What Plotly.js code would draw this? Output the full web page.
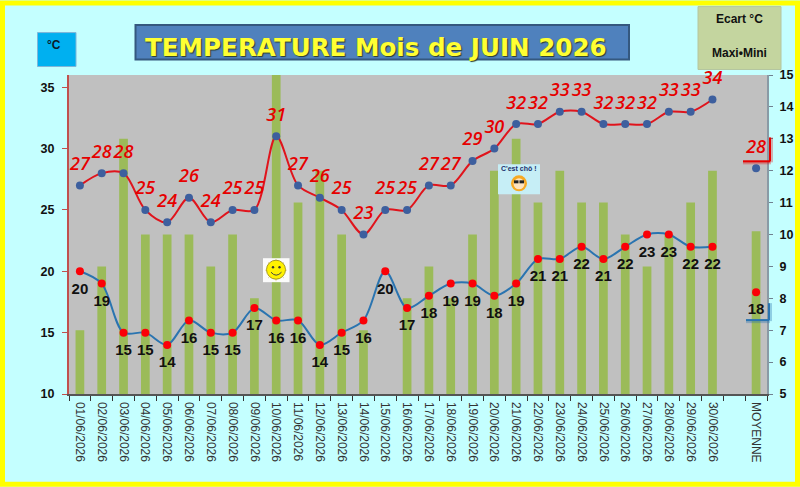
<!DOCTYPE html>
<html>
<head>
<meta charset="utf-8">
<script src="https://cdn.plot.ly/plotly-3.0.1.min.js"></script>
<style>
    html, body { margin: 0; padding: 0; background: #c4ffff; }
</style>
</head>
<body>
<div id="chart" style="width:800px;height:487px;"></div>
<script>
var days = ['01/06/2026', '02/06/2026', '03/06/2026', '04/06/2026', '05/06/2026', '06/06/2026', '07/06/2026', '08/06/2026', '09/06/2026', '10/06/2026',
    '11/06/2026', '12/06/2026', '13/06/2026', '14/06/2026', '15/06/2026', '16/06/2026', '17/06/2026', '18/06/2026', '19/06/2026', '20/06/2026',
    '21/06/2026', '22/06/2026', '23/06/2026', '24/06/2026', '25/06/2026', '26/06/2026', '27/06/2026', '28/06/2026', '29/06/2026', '30/06/2026', ' ', 'MOYENNE'];
var maxi = [27, 28, 28, 25, 24, 26, 24, 25, 25, 31, 27, 26, 25, 23, 25, 25, 27, 27, 29, 30, 32, 32, 33, 33, 32, 32, 32, 33, 33, 34, null, 28.4];
var mini = [20, 19, 15, 15, 14, 16, 15, 15, 17, 16, 16, 14, 15, 16, 20, 17, 18, 19, 19, 18, 19, 21, 21, 22, 21, 22, 23, 23, 22, 22, null, 18.3];
var ecart = [7, 9, 13, 10, 10, 10, 9, 10, 8, 15, 11, 12, 10, 7, 5, 8, 9, 8, 10, 12, 13, 11, 12, 11, 11, 10, 9, 10, 11, 12, null, 10.1];

var plotLeft = 69, plotRight = 767, plotTop = 74.5, plotBottom = 394;

// Pixel position on the page to paper fraction, for the decorations around the chart.
function px(x) { return (x - plotLeft) / (plotRight - plotLeft); }
function py(y) { return (plotBottom - y) / (plotBottom - plotTop); }

function pixelRect(x0, y0, x1, y1, fill, lineColor, lineWidth, layer) {
    return {
        type: 'rect', xref: 'paper', yref: 'paper', layer: layer || 'above',
        x0: px(x0), x1: px(x1), y0: py(y0), y1: py(y1),
        fillcolor: fill, line: { color: lineColor || fill, width: lineWidth || 0 }
    };
}
function pixelCircle(cx, cy, r, fill, lineColor) {
    return {
        type: 'circle', xref: 'paper', yref: 'paper', layer: 'above',
        x0: px(cx - r), x1: px(cx + r), y0: py(cy - r), y1: py(cy + r),
        fillcolor: fill, line: { color: lineColor || fill, width: lineColor ? 1 : 0 }
    };
}
function pixelLine(x0, y0, x1, y1, color, width) {
    return {
        type: 'line', xref: 'paper', yref: 'paper', layer: 'above',
        x0: px(x0), x1: px(x1), y0: py(y0), y1: py(y1),
        line: { color: color, width: width }
    };
}
function pixelText(x, y, text, font) {
    return {
        xref: 'paper', yref: 'paper', x: px(x), y: py(y), text: text,
        showarrow: false, xanchor: 'center', yanchor: 'middle', font: font
    };
}
function labels(values) {
    return values.map(function (v) { return v === null ? '' : String(Math.round(v)); });
}

var traces = [
    {
        type: 'bar', x: days, y: ecart, yaxis: 'y', name: 'Ecart',
        marker: { color: '#9bbb59' }, hoverinfo: 'x+y'
    },
    {
        type: 'scatter', x: days, y: maxi, yaxis: 'y2', name: 'Maxi',
        mode: 'lines+markers',
        line: { color: '#e0141c', width: 2, shape: 'spline', smoothing: 0.9 },
        marker: { color: '#3d5f9e', size: 8 }
    },
    {
        type: 'scatter', x: days, y: mini, yaxis: 'y2', name: 'Mini',
        mode: 'lines+markers',
        line: { color: '#2a74b0', width: 2, shape: 'spline', smoothing: 0.9 },
        marker: { color: '#fb0007', size: 8 }
    },
    // Labels sit on their own traces: the invisible marker size sets how far they stand off the points.
    {
        type: 'scatter', x: days, y: maxi, yaxis: 'y2', name: 'Maxi labels',
        mode: 'markers+text', text: labels(maxi), textposition: 'top center',
        textfont: { family: 'Open Sans, sans-serif', size: 18, color: '#e60000', style: 'italic', weight: 600 },
        marker: { size: 16, opacity: 0 },
        cliponaxis: false
    },
    {
        type: 'scatter', x: days, y: mini, yaxis: 'y2', name: 'Mini labels',
        mode: 'markers+text', text: labels(mini), textposition: 'bottom center',
        textfont: { family: 'Liberation Sans, Arial, sans-serif', size: 15, color: '#111111', weight: 700 },
        marker: { size: 16, opacity: 0 },
        cliponaxis: false
    }
];

var boldTick = { family: 'Liberation Sans, Arial, sans-serif', size: 12.5, color: '#111111', weight: 700 };

var shapes = [
    // frame and boxes
    pixelRect(2.5, 2.5, 797.5, 484.5, 'rgba(0,0,0,0)', '#ffff00', 5, 'below'),
    pixelRect(135.5, 24.5, 629, 59, '#4f81bd', '#34587f', 2, 'below'),
    pixelRect(37.5, 32, 76, 66, '#00b0f0', '#7fb6d8', 1, 'below'),
    pixelRect(698, 6, 781, 69, '#c4d59f', '#b4c6a0', 1, 'below'),
    // corner marks around the monthly means
    pixelLine(743, 162, 771, 162, 'rgba(230,0,0,0.3)', 4),
    pixelLine(771, 137, 771, 162, 'rgba(230,0,0,0.3)', 4),
    pixelLine(743, 161, 770, 161, '#e60000', 2),
    pixelLine(770, 137, 770, 161, '#e60000', 2),
    pixelLine(746, 321, 770, 321, 'rgba(42,116,176,0.35)', 4),
    pixelLine(770, 303, 770, 321, 'rgba(42,116,176,0.35)', 4),
    pixelLine(746, 320, 769, 320, '#2a74b0', 2),
    pixelLine(769, 303, 769, 320, '#2a74b0', 2),
    // smiley
    pixelRect(263, 258, 289.5, 282, '#fbfbfb'),
    pixelLine(276, 259, 276, 281, '#e6d9a0', 1),
    pixelLine(265, 270, 287, 270, '#e6d9a0', 1),
    pixelLine(268, 262, 284, 278, '#e6d9a0', 1),
    pixelLine(284, 262, 268, 278, '#e6d9a0', 1),
    pixelCircle(276, 269.5, 9.5, '#fff200', '#a89a20'),
    pixelCircle(273, 267, 1.2, '#333333'),
    pixelCircle(279.5, 267, 1.2, '#333333'),
    {
        type: 'path', xref: 'paper', yref: 'paper', layer: 'above',
        path: 'M ' + px(271) + ' ' + py(272) + ' Q ' + px(276) + ' ' + py(278) + ' ' + px(281.5) + ' ' + py(272),
        line: { color: '#444444', width: 1 }
    },
    // "C'est chô" picture
    pixelRect(498, 164, 540, 194, '#c6eef6'),
    pixelCircle(519, 183, 8, '#f7a823'),
    pixelCircle(519, 183.5, 5.5, '#fde3c0'),
    pixelRect(514, 180, 518.5, 183, '#222222'),
    pixelRect(519.5, 180, 524, 183, '#222222')
];

var annotations = [
    pixelText(376, 47, 'TEMPERATURE Mois de JUIN 2026', {
        family: 'DejaVu Sans, sans-serif', size: 24.6, color: '#ffff33', weight: 700,
        shadow: '1px 1px 1px #2c3e2c'
    }),
    pixelText(54, 44, '°C', { family: 'Liberation Sans, Arial, sans-serif', size: 12, color: '#0b1a2a', weight: 700 }),
    pixelText(739, 18, 'Ecart °C', { family: 'Liberation Sans, Arial, sans-serif', size: 12, color: '#111111', weight: 700 }),
    pixelText(739, 52, 'Maxi•Mini', { family: 'Liberation Sans, Arial, sans-serif', size: 12, color: '#111111', weight: 700 }),
    pixelText(519, 168.5, "C'est chô !", { family: 'Liberation Sans, Arial, sans-serif', size: 7, color: '#1a2f6b', weight: 700 })
];

var layout = {
    width: 800,
    height: 487,
    autosize: false,
    margin: { l: plotLeft, r: 800 - plotRight, t: plotTop, b: 487 - plotBottom, pad: 0 },
    paper_bgcolor: '#c4ffff',
    plot_bgcolor: '#c0c0c0',
    showlegend: false,
    bargap: 0.6,
    xaxis: {
        type: 'category',
        categoryorder: 'array',
        categoryarray: days,
        // Fixed range, otherwise the text labels pad the autorange.
        range: [-0.5, days.length - 0.5],
        tickmode: 'array',
        tickvals: days,
        ticktext: days,
        tickson: 'boundaries',
        tickangle: 90,
        ticks: 'outside',
        ticklen: 5,
        tickcolor: '#333333',
        ticklabelstandoff: 4,
        showline: true,
        linecolor: '#555555',
        linewidth: 1.5,
        mirror: false,
        showgrid: false,
        zeroline: false,
        automargin: false,
        tickfont: { family: 'Liberation Sans, Arial, sans-serif', size: 12, color: '#333333' }
    },
    yaxis: {
        side: 'right',
        range: [5, 15],
        dtick: 1,
        ticks: 'outside',
        ticklen: 4,
        tickcolor: '#708090',
        ticklabelstandoff: 4,
        showline: true,
        linecolor: '#8a9aa5',
        linewidth: 2,
        showgrid: false,
        zeroline: false,
        automargin: false,
        tickfont: boldTick
    },
    yaxis2: {
        overlaying: 'y',
        side: 'left',
        range: [10, 36],
        tickvals: [10, 15, 20, 25, 30, 35],
        ticks: 'outside',
        ticklen: 5,
        tickcolor: '#c0504d',
        ticklabelstandoff: 5,
        showline: true,
        linecolor: '#c0504d',
        linewidth: 2,
        showgrid: false,
        zeroline: false,
        automargin: false,
        tickfont: boldTick
    },
    shapes: shapes,
    annotations: annotations
};

Plotly.newPlot('chart', traces, layout, { displayModeBar: false, staticPlot: true });
</script>
</body>
</html>
